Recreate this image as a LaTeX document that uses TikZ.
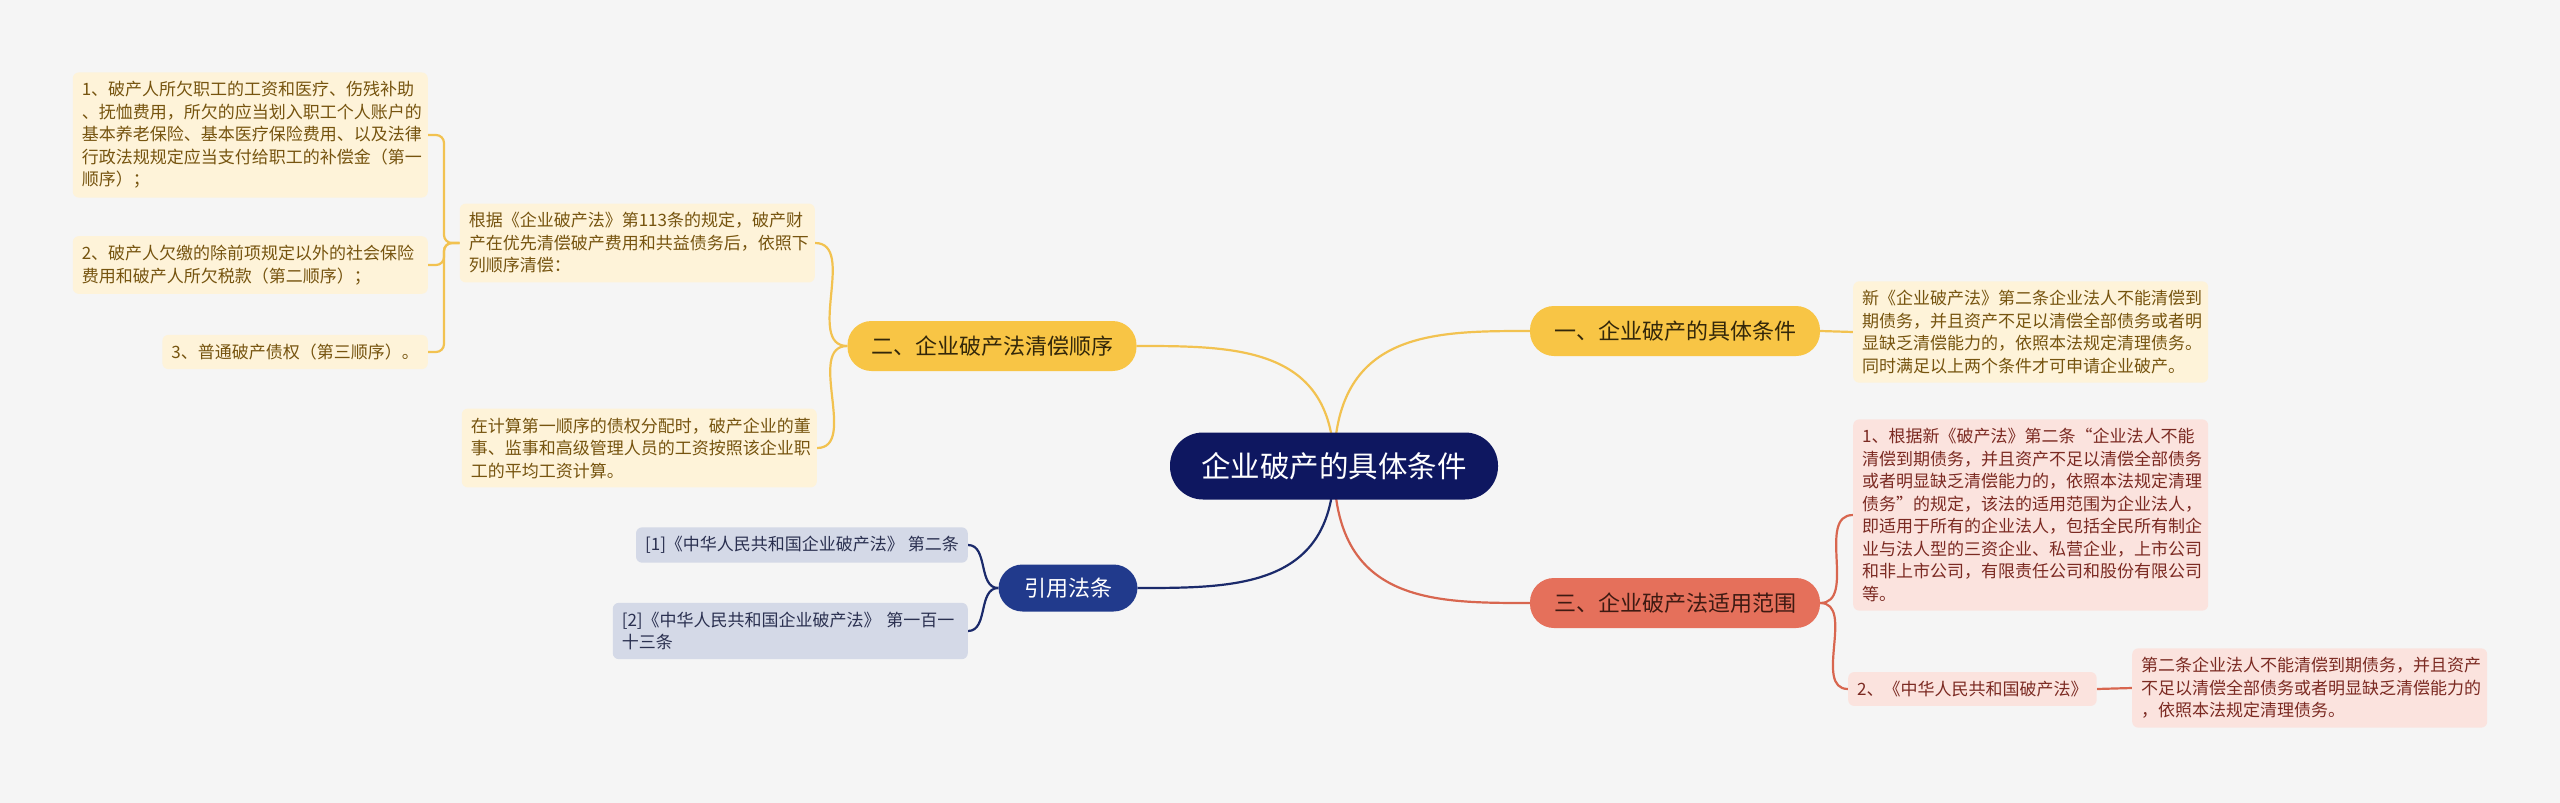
\documentclass[tikz,border=0pt]{standalone}
\usepackage{fontspec}
\setmainfont{Noto Sans CJK SC}
\usetikzlibrary{backgrounds,calc}
\definecolor{bgc}{HTML}{F5F5F5}
\definecolor{centralc}{HTML}{0E1760}
\definecolor{ybranchc}{HTML}{F8C545}
\definecolor{ybtext}{HTML}{33270A}
\definecolor{ylinec}{HTML}{F2C250}
\definecolor{yleafc}{HTML}{FEF3D9}
\definecolor{ytext}{HTML}{76540F}
\definecolor{rbranchc}{HTML}{E5705B}
\definecolor{rbtext}{HTML}{3E1A12}
\definecolor{rlinec}{HTML}{D8664F}
\definecolor{rleafc}{HTML}{FBE3DE}
\definecolor{rtext}{HTML}{7B2A22}
\definecolor{nbranchc}{HTML}{213A8C}
\definecolor{nlinec}{HTML}{1B2A6B}
\definecolor{nleafc}{HTML}{D4D9E7}
\definecolor{ntext}{HTML}{2A3050}
\begin{document}
\begin{tikzpicture}[x=1pt,y=-1pt,
  leaf/.style={rounded corners=6pt, inner xsep=9pt, inner ysep=9pt, align=left,
    font=\fontsize{17}{22.5}\selectfont},
  wide/.style={text width=337pt},
  yleaf/.style={leaf, fill=yleafc, text=ytext},
  rleaf/.style={leaf, fill=rleafc, text=rtext},
  nleaf/.style={leaf, fill=nleafc, text=ntext},
  branch/.style={rounded corners=24pt, minimum height=50pt, inner xsep=0pt,
    font=\fontsize{22}{26}\selectfont},
  ybranch/.style={branch, fill=ybranchc, text=ybtext},
  rbranch/.style={branch, fill=rbranchc, text=rbtext},
  nbranch/.style={branch, fill=nbranchc, text=white},
  central/.style={rounded corners=33pt, minimum height=67pt, minimum width=328pt,
    fill=centralc, text=white, font=\fontsize{29.5}{34}\selectfont},
  ylink/.style={draw=ylinec, line width=2.2pt},
  rlink/.style={draw=rlinec, line width=2.2pt},
  nlink/.style={draw=nlinec, line width=2.2pt}]
\useasboundingbox (0,0) rectangle (2560,803);

% central and branches
\node[central] (C) at (1334,466) {企业破产的具体条件};
\node[ybranch, minimum width=290pt] (B1) at (1675,331) {一、企业破产的具体条件};
\node[ybranch, minimum width=289pt] (B2) at (992,346) {二、企业破产法清偿顺序};
\node[nbranch, minimum width=139pt, minimum height=47pt] (B3) at (1068,588) {引用法条};
\node[rbranch, minimum width=290pt] (B4) at (1675,603) {三、企业破产法适用范围};

% branch 1 leaf
\node[yleaf, wide, anchor=west] (D1) at (1853,332) {新《企业破产法》第二条企业法人不能清偿到\\期债务，并且资产不足以清偿全部债务或者明\\显缺乏清偿能力的，依照本法规定清理债务。\\同时满足以上两个条件才可申请企业破产。};

% branch 2 leaves
\node[yleaf, wide, anchor=east] (L1) at (815,243) {根据《企业破产法》第113条的规定，破产财\\产在优先清偿破产费用和共益债务后，依照下\\列顺序清偿：};
\node[yleaf, wide, anchor=east] (L2) at (817,448) {在计算第一顺序的债权分配时，破产企业的董\\事、监事和高级管理人员的工资按照该企业职\\工的平均工资计算。};
\node[yleaf, wide, anchor=east] (A1) at (428,135) {1、破产人所欠职工的工资和医疗、伤残补助\\、抚恤费用，所欠的应当划入职工个人账户的\\基本养老保险、基本医疗保险费用、以及法律\\行政法规规定应当支付给职工的补偿金（第一\\顺序）；};
\node[yleaf, wide, anchor=east] (A2) at (428,265) {2、破产人欠缴的除前项规定以外的社会保险\\费用和破产人所欠税款（第二顺序）；};
\node[yleaf, anchor=east] (A3) at (428,352) {3、普通破产债权（第三顺序）。};
\coordinate (k1) at (444,243);

% citation leaves
\node[nleaf, anchor=east] (N1) at (968,545) {[1]《中华人民共和国企业破产法》 第二条};
\node[nleaf, wide, anchor=east] (N2) at (968,631) {[2]《中华人民共和国企业破产法》 第一百一\\十三条};

% branch 3 leaves
\node[rleaf, wide, anchor=west] (E1) at (1853,515) {1、根据新《破产法》第二条“企业法人不能\\清偿到期债务，并且资产不足以清偿全部债务\\或者明显缺乏清偿能力的，依照本法规定清理\\债务”的规定，该法的适用范围为企业法人，\\即适用于所有的企业法人，包括全民所有制企\\业与法人型的三资企业、私营企业，上市公司\\和非上市公司，有限责任公司和股份有限公司\\等。};
\node[rleaf, anchor=west] (E2) at (1848,689) {2、《中华人民共和国破产法》};
\node[rleaf, wide, anchor=west] (E3) at (2132,688) {第二条企业法人不能清偿到期债务，并且资产\\不足以清偿全部债务或者明显缺乏清偿能力的\\，依照本法规定清理债务。};

\begin{pgfonlayer}{background}
\fill[bgc] (0,0) rectangle (2560,803);
% central to branches
\draw[ylink] (C.center) .. controls (C.center |- B1.west) and ($(C.center |- B1.west)!0.5!(B1.west)$) .. (B1.west);
\draw[ylink] (C.center) .. controls (C.center |- B2.east) and ($(C.center |- B2.east)!0.5!(B2.east)$) .. (B2.east);
\draw[nlink] (C.center) .. controls (C.center |- B3.east) and ($(C.center |- B3.east)!0.5!(B3.east)$) .. (B3.east);
\draw[rlink] (C.center) .. controls (C.center |- B4.west) and ($(C.center |- B4.west)!0.5!(B4.west)$) .. (B4.west);
% branch to leaves
\draw[ylink] (B1.east) -- (D1.west);
\draw[ylink] (B2.west) to[out=180,in=0] (L1.east);
\draw[ylink] (B2.west) to[out=180,in=0] (L2.east);
\draw[ylink, rounded corners=8pt] (L1.west) -- (k1) |- (A1.east);
\draw[ylink, rounded corners=8pt] (L1.west) -- (k1) |- (A2.east);
\draw[ylink, rounded corners=8pt] (L1.west) -- (k1) |- (A3.east);
\draw[nlink] (B3.west) to[out=180,in=0] (N1.east);
\draw[nlink] (B3.west) to[out=180,in=0] (N2.east);
\draw[rlink] (B4.east) to[out=0,in=180] (E1.west);
\draw[rlink] (B4.east) to[out=0,in=180] (E2.west);
\draw[rlink] (E2.east) -- (E3.west);
\end{pgfonlayer}
\end{tikzpicture}
\end{document}
